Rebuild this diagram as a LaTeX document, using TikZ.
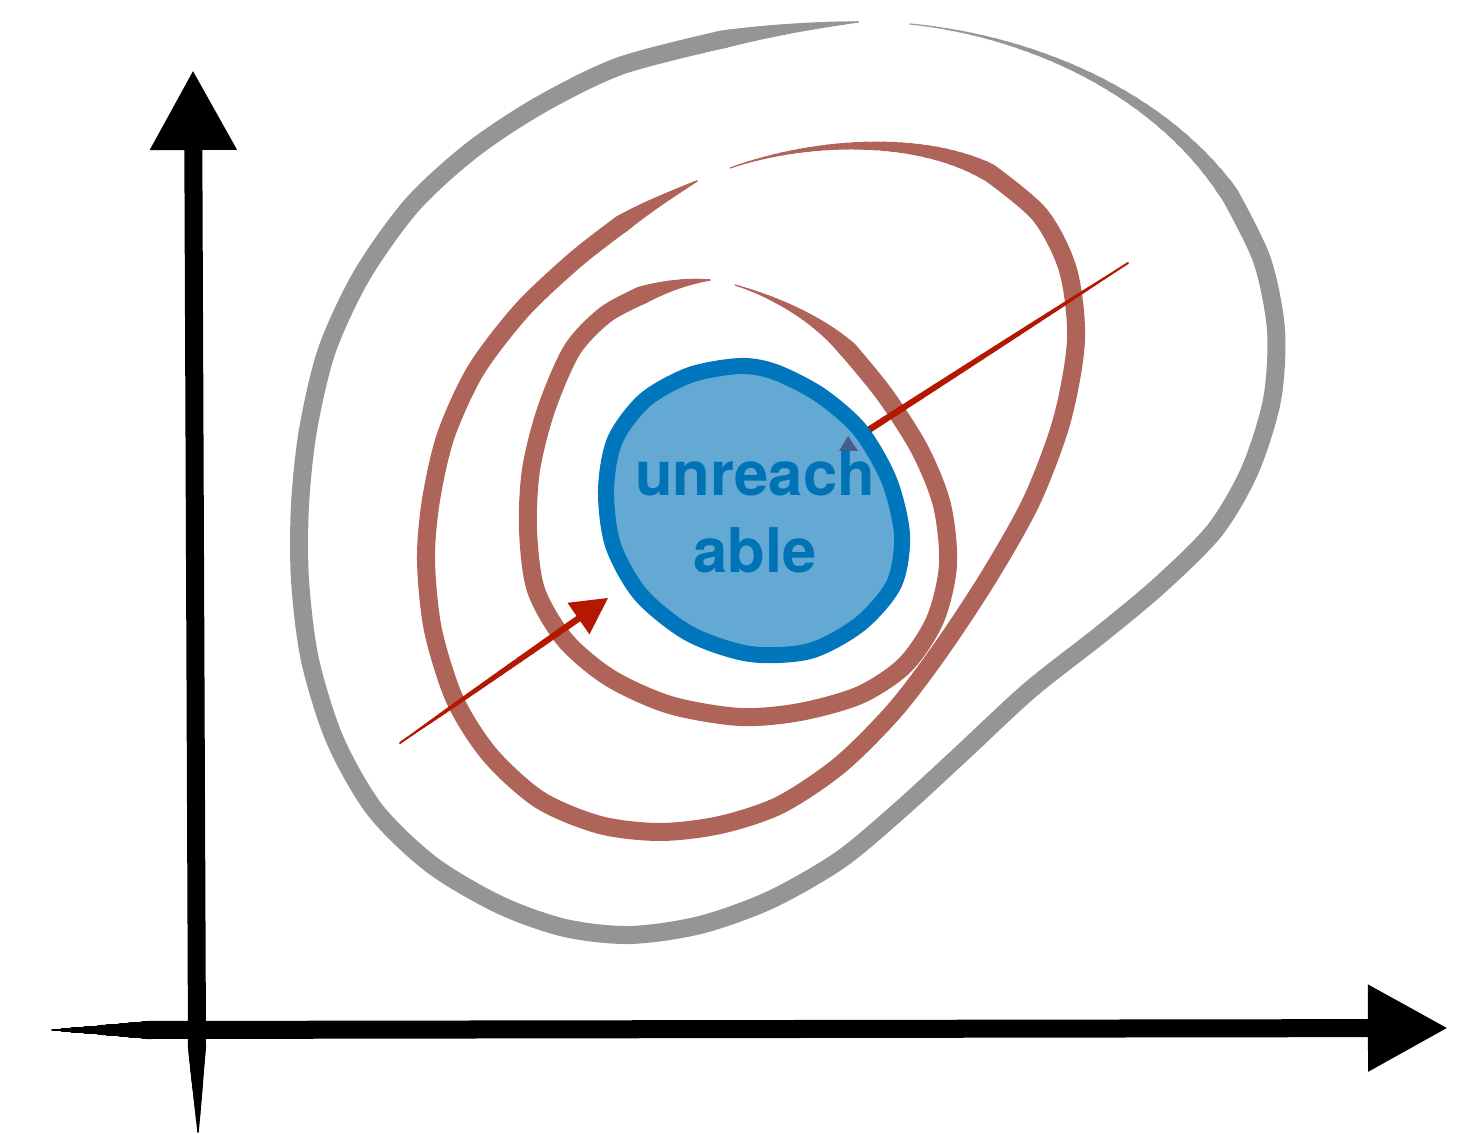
\documentclass[tikz,border=0pt]{standalone}
\usepackage{fontspec}
\newfontfamily\heros{TeX Gyre Heros}
\usetikzlibrary{arrows.meta,calc}
\definecolor{contgray}{HTML}{959595}
\definecolor{contred}{HTML}{AE6459}
\definecolor{blobfill}{HTML}{63A9D3}
\definecolor{blobline}{HTML}{0077BC}
\definecolor{blobtext}{HTML}{0072B6}
\definecolor{arrred}{HTML}{B51800}
\definecolor{slate}{HTML}{4B5B8A}
%% tapered brush end: colour, thin end, control, control, thick end, width, ramp power
\newcommand\brushend[7]{%
	\path #2 .. controls #3 and #4 .. #5 \foreach \i in {0,...,30}{coordinate[pos=\i/30] (bp\i)};
	\foreach \i in {1,...,30}{\pgfmathtruncatemacro\j{\i-1}
		\draw[#1,line width={#6*(0.06+0.94*(\i/30)^#7)}] (bp\j)--(bp\i);}}
\begin{document}
\begin{tikzpicture}[x=0.01cm,y=-0.01cm,>={Triangle[length=0.36cm,width=0.38cm]},line join=round,line cap=round]
	\tikzset{axis/.style={line width=0.18cm,-{Triangle[length=0.8cm,width=0.82cm]}},
		thick curve/.style={line width=0.18cm},
		txt/.style={font=\fontsize{17.5}{22}\selectfont\heros\bfseries,text=blobtext,align=center}}
	%%Page size
	\useasboundingbox (0,0) rectangle (1481,1134);
	%%Axes
	\draw[axis] (197,1045)--(193,70);
	\brushend{black}{(198,1132)}{(198,1105)}{(197,1075)}{(197,1045)}{0.18cm}{1}
	\draw[axis] (150,1030)--(1448,1028);
	\brushend{black}{(52,1030)}{(85,1030)}{(118,1030)}{(150,1030)}{0.18cm}{1}
	%%Gray contour
	\brushend{contgray}{(910,24)}{(1030,36)}{(1160,92)}{(1230,195)}{0.18cm}{1.6}
	\draw[contgray,thick curve] plot[smooth] coordinates {(1230,195) (1262,260) (1276,330) (1272,400) (1250,470) (1215,530) (1160,585) (1100,635) (1030,690) (960,755) (900,810) (840,860) (770,900) (700,925) (630,935) (565,928) (500,905) (432,865) (375,810) (335,740) (310,660) (300,580) (300,505) (308,430) (327,350) (362,275) (412,205) (472,150) (540,105) (620,66) (720,40)};
	\brushend{contgray}{(858,22)}{(815,25)}{(765,31)}{(720,40)}{0.18cm}{1}
	%%Outer red contour
	\brushend{contred}{(730,168)}{(810,140)}{(920,135)}{(990,173)}{0.18cm}{1.4}
	\draw[contred,thick curve] plot[smooth] coordinates {(990,173) (1040,215) (1068,270) (1076,340) (1062,420) (1032,500) (990,575) (942,648) (895,710) (840,765) (780,805) (720,825) (660,832) (600,825) (540,800) (490,755) (455,700) (433,630) (426,560) (431,500) (446,435) (476,370) (522,310) (575,260) (620,225)};
	\brushend{contred}{(697,181)}{(672,194)}{(645,208)}{(620,225)}{0.18cm}{1}
	%%Inner red contour
	\brushend{contred}{(735,285)}{(775,297)}{(820,320)}{(850,352)}{0.18cm}{1.5}
	\draw[contred,thick curve] plot[smooth] coordinates {(850,352) (885,395) (920,450) (942,505) (948,565) (935,620) (905,665) (860,695) (800,712) (740,717) (670,705) (610,678) (565,640) (536,590) (528,530) (531,470) (546,410) (572,350) (605,315) (640,296)};
	\brushend{contred}{(710,280)}{(687,281)}{(662,287)}{(640,296)}{0.18cm}{1}
	%%Red arrows
	\coordinate (inS) at (400,743);
	\coordinate (inE) at (608,598);
	\coordinate (outS) at (1128,263);
	\coordinate (outE) at (836,451);
	\draw[->,arrred,line width=0.02cm] (inS)--(inE);
	\brushend{arrred}{(inS)}{($(inS)!0.08!(inE)$)}{($(inS)!0.2!(inE)$)}{($(inS)!0.86!(inE)$)}{0.065cm}{1}
	\draw[->,arrred,line width=0.02cm] (outS)--(outE);
	\brushend{arrred}{(outS)}{($(outS)!0.08!(outE)$)}{($(outS)!0.2!(outE)$)}{($(outS)!0.9!(outE)$)}{0.065cm}{1}
	%%Unreachable region
	\draw[blobline,fill=blobfill,line width=0.16cm] plot[smooth cycle] coordinates {(740,366) (690,375) (645,400) (615,440) (606,490) (613,545) (641,595) (690,634) (750,654) (810,651) (860,624) (894,584) (902,535) (889,480) (860,430) (820,395) (775,372)};
	\fill[slate] (848,436)--(839,451)--(858,451)--cycle;
	\node[txt] (unreach) at (755,512) {unreach\\able};
\end{tikzpicture}
\end{document}
